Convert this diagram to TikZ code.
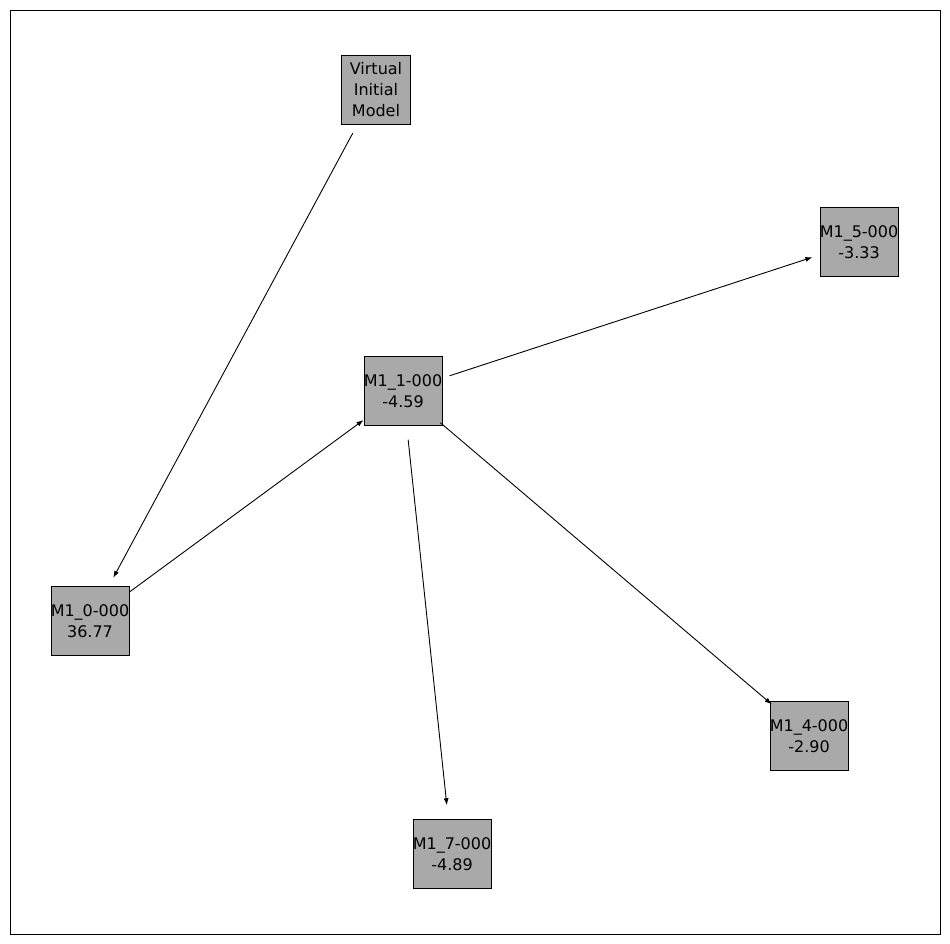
\documentclass[tikz,border=0pt]{standalone}
\usepackage{fontspec}
\setmainfont{DejaVu Sans}
\usetikzlibrary{arrows.meta}
\definecolor{boxgray}{HTML}{A9A9A9}
\tikzset{
  mbox/.style={draw=black, fill=boxgray, minimum width=69pt, minimum height=69pt, inner sep=0pt, align=center, font=\fontsize{16}{21}\selectfont},
  edge/.style={-{Latex[length=7pt,width=5pt]}, line width=0.9pt, shorten <=49pt, shorten >=49pt}
}
\begin{document}
\begin{tikzpicture}[x=1pt,y=-1pt]
\useasboundingbox (0,0) rectangle (950,944);
\draw[line width=0.8pt] (10,10) rectangle (940,934);
\node[mbox] (vim) at (376,90) {Virtual\\Initial\\Model};
\node[mbox] (m5) at (859,242) {M1\_5-000\\-3.33};
\node[mbox] (m1) at (403,391) {M1\_1-000\\-4.59};
\node[mbox] (m0) at (90,621) {M1\_0-000\\36.77};
\node[mbox] (m4) at (809,736) {M1\_4-000\\-2.90};
\node[mbox] (m7) at (452,854) {M1\_7-000\\-4.89};
\draw[edge] (vim.center) -- (m0.center);
\draw[edge] (m0.center) -- (m1.center);
\draw[edge] (m1.center) -- (m5.center);
\draw[edge] (m1.center) -- (m4.center);
\draw[edge] (m1.center) -- (m7.center);
\end{tikzpicture}
\end{document}
